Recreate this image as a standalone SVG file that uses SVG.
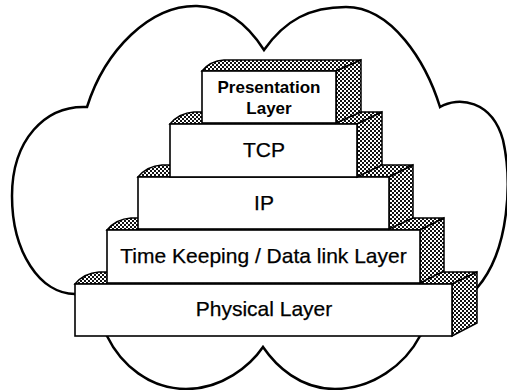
<svg xmlns="http://www.w3.org/2000/svg" width="507" height="390" viewBox="0 0 507 390">
  <defs>
    <!-- stipple used on the top and side faces of each slab -->
    <pattern id="stipple" width="4" height="4" patternUnits="userSpaceOnUse">
      <rect width="4" height="4" fill="#fff"/>
      <rect x="0" y="0" width="2" height="2" fill="#111"/>
      <rect x="2" y="2" width="2" height="2" fill="#111"/>
    </pattern>
    <style>
      .cloud { fill: #fff; stroke: #000; stroke-width: 2.5; stroke-linejoin: miter; }
      .face { fill: url(#stipple); stroke: #000; stroke-width: 1.5; stroke-linejoin: miter; }
      .front { fill: #fff; stroke: #000; stroke-width: 1.6; }
      .lbl { font-family: "Liberation Sans", Arial, sans-serif; font-size: 21px; fill: #000; stroke: #000; stroke-width: 0.25; text-anchor: middle; }
      .lbl-b { font-family: "Liberation Sans", Arial, sans-serif; font-size: 17px; font-weight: bold; fill: #000; text-anchor: middle; }
    </style>
  </defs>

  <rect width="507" height="390" fill="#fff"/>

  <!-- cloud outline behind the stack -->
  <g id="cloud">
    <path class="cloud" d="M 75 294
      C 40 294, 12 252, 12 196
      C 12 140, 45 105, 87 107
      C 105 50, 150 5, 197 6
      C 228 7, 250 28, 264 50
      C 285 20, 310 7, 346 7
      C 392 7, 426 62, 440 107
      C 458 96, 492 100, 503 140
      C 512 180, 510 250, 477 288
      L 420 336
      C 405 365, 372 389, 335 389
      C 300 389, 276 366, 263 347
      C 250 366, 222 389, 186 389
      C 150 389, 121 365, 107 336
      Z"/>
  </g>

  <!-- Physical Layer slab -->
  <g id="physical">
    <path class="face" d="M 75 284 Q 84 273 99 272 L 477 272 L 452 284 Z"/>
    <path class="face" d="M 452 284 L 477 272 L 477 323 L 452 336 Z"/>
    <rect class="front" x="75" y="284" width="377" height="52"/>
    <text class="lbl" x="264" y="316">Physical Layer</text>
  </g>

  <!-- Time Keeping / Data link slab -->
  <g id="datalink">
    <path class="face" d="M 107 230 Q 116 219 131 218 L 444 218 L 420 230 Z"/>
    <path class="face" d="M 420 230 L 444 218 L 444 271 L 420 283 Z"/>
    <rect class="front" x="107" y="230" width="313" height="53"/>
    <text class="lbl" x="263.5" y="263">Time Keeping / Data link Layer</text>
  </g>

  <!-- IP slab -->
  <g id="ip">
    <path class="face" d="M 138 177 Q 147 166 162 165 L 413 165 L 389 177 Z"/>
    <path class="face" d="M 389 177 L 413 165 L 413 218 L 389 229 Z"/>
    <rect class="front" x="138" y="177" width="251" height="52"/>
    <text class="lbl" x="264" y="210">IP</text>
  </g>

  <!-- TCP slab -->
  <g id="tcp">
    <path class="face" d="M 170 124 Q 179 113 194 112 L 382 112 L 357 124 Z"/>
    <path class="face" d="M 357 124 L 382 112 L 382 165 L 357 177 Z"/>
    <rect class="front" x="170" y="124" width="187" height="53"/>
    <text class="lbl" x="264" y="157">TCP</text>
  </g>

  <!-- Presentation Layer slab -->
  <g id="presentation">
    <path class="face" d="M 202 71 Q 210 61 224 60 L 361 60 L 336 71 Z"/>
    <path class="face" d="M 336 71 L 361 60 L 361 112 L 336 123 Z"/>
    <rect class="front" x="202" y="71" width="134" height="52"/>
    <text class="lbl-b" x="269" y="93">Presentation</text>
    <text class="lbl-b" x="269" y="114">Layer</text>
  </g>
</svg>
